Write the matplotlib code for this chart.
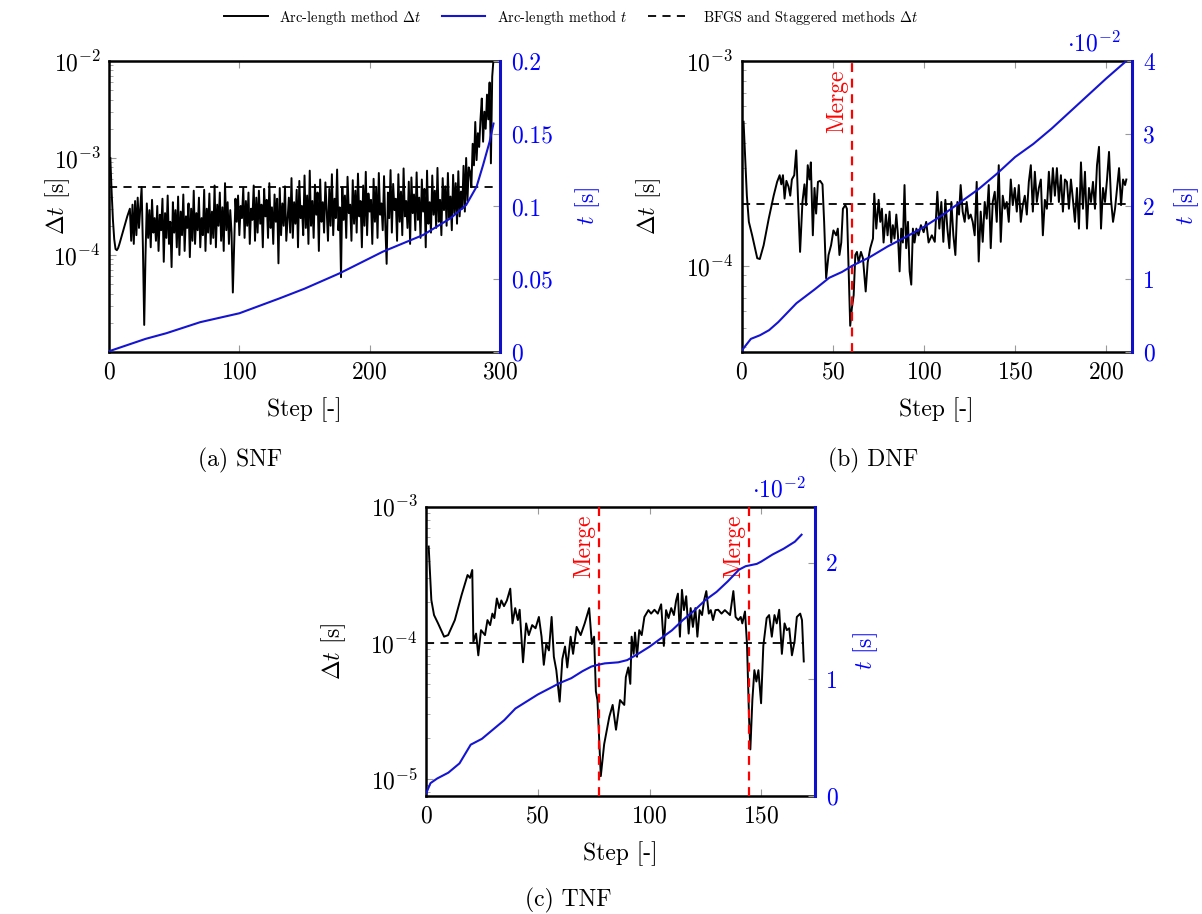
import numpy as np
import matplotlib
matplotlib.use("Agg")
import matplotlib.pyplot as plt
from matplotlib.ticker import LogLocator, NullFormatter, FixedLocator

plt.rcParams.update({
    "font.family": "serif",
    "font.serif": ["cmr10"],
    "mathtext.fontset": "cm",
    "axes.formatter.use_mathtext": True,
    "axes.unicode_minus": False,
})

# ---------------- data ----------------
# (a) SNF : dt in units of 1e-4 s, one value per step starting at step 1
dt_a = [
    10.0, 4.5, 2.3, 1.45, 1.15, 1.12, 1.18, 1.3, 1.45, 1.62, 1.8, 2.0, 2.25, 2.5, 2.75, 3.0,
    1.4, 3.3, 1.3, 3.6, 1.6, 3.9, 1.9, 3.1, 5.0, 1.2, 0.19, 1.0, 3.4, 1.5, 2.9, 1.2, 3.7, 1.7, 2.4, 1.4,
    3.2, 1.1, 2.6, 1.8, 3.8, 0.85, 2.7, 1.5, 4.1, 1.3, 2.2, 0.75, 3.5, 1.7, 2.9, 1.2, 4.0, 1.0, 2.8, 1.6,
    4.2, 1.1, 2.5, 1.9, 3.4, 0.95, 3.0, 1.4, 4.6, 1.3, 2.7, 1.8, 3.9, 1.2, 2.4, 1.6, 4.7, 1.1, 3.0, 1.7,
    4.3, 1.3, 2.8, 1.5, 5.2, 1.2, 3.3, 2.0, 4.4, 1.4, 3.1, 1.1, 5.5, 1.8, 3.5, 1.3, 2.9, 1.7, 0.41, 1.2,
    3.8, 2.2, 4.1, 1.6, 3.2, 2.4, 4.9, 1.5, 3.6, 2.0, 4.4, 1.3, 3.0, 2.3, 5.2, 1.4, 3.9, 1.7, 4.6, 2.1,
    3.3, 1.2, 4.8, 2.5, 3.7, 1.5, 5.5, 1.9, 3.1, 1.3, 4.2, 2.2, 3.8, 0.82, 4.9, 1.6, 3.4, 2.0, 5.1, 1.4,
    2.3, 3.9, 1.7, 6.2, 1.5, 3.5, 2.1, 4.7, 1.2, 5.8, 2.4, 3.2, 1.6, 6.6, 1.9, 4.1, 1.3, 7.4, 2.0, 3.6,
    1.5, 5.3, 2.6, 4.4, 1.1, 6.0, 2.2, 3.5, 1.7, 5.6, 2.9, 1.4, 4.8, 2.0, 6.8, 1.6, 3.8, 2.4, 7.6, 1.8,
    3.1, 0.59, 5.0, 2.3, 4.1, 1.5, 6.4, 2.7, 3.3, 1.4, 5.9, 2.1, 4.6, 1.7, 6.9, 2.5, 3.6, 1.2, 5.2, 2.0,
    7.2, 1.6, 4.3, 2.8, 3.7, 1.3, 6.1, 2.2, 5.0, 1.5, 7.0, 2.6, 3.4, 1.8, 6.5, 2.0, 0.81, 4.4, 2.4, 7.5,
    1.7, 5.4, 2.9, 3.8, 1.4, 6.8, 2.2, 4.5, 1.6, 7.8, 2.5, 3.6, 1.9, 5.7, 1.3, 6.3, 2.7, 4.2, 1.8, 7.1,
    2.3, 3.9, 1.5, 6.0, 2.8, 4.8, 1.2, 7.4, 2.1, 3.5, 1.7, 6.6, 2.6, 4.6, 1.9, 7.9, 2.2, 3.7, 1.6, 6.2,
    2.9, 5.1, 2.0, 7.0, 2.4, 4.0, 1.8, 6.7, 2.7, 5.5, 2.1, 7.3, 2.5, 4.5, 3.0, 8.3, 2.8, 10.0, 3.6,
    8.0, 7.2, 5.0, 14.0, 8.4, 23.5, 9.5, 18.0, 13.0, 25.0, 41.0, 14.7, 30.0, 20.0, 45.0, 25.0, 60.0, 8.8, 69.0, 105.0,
]
steps_a = list(range(1, len(dt_a) + 1))
t_steps_a = [0, 28, 44, 70, 100, 131, 150, 177, 210, 241, 262, 274, 282, 287, 292, 295]
t_a = [0.0005, 0.009, 0.0129, 0.0205, 0.0266, 0.0369, 0.0435, 0.0541, 0.0689, 0.0804,
       0.0919, 0.101, 0.1136, 0.1285, 0.1445, 0.157]

# (b) DNF : dt in units of 1e-4 s
steps_b = [1, 1.5, 2.8, 3.9, 5.7, 8.5, 9.9, 12, 14.8, 17.5, 19.4, 20.8, 21.7, 22.6, 23.5, 24.5,
           25.7, 26.6, 27.5, 28.8, 29.9, 30.8, 32, 33.3, 34.4, 35.3, 36.2, 37.2, 37.9, 39, 39.9,
           40.8, 41.8, 43, 44.3, 45.2, 46.3, 47.6, 49, 50.3, 51.8, 52.7, 53.6, 54.6, 55.5, 56.8,
           57.7, 58.6, 59.5, 60.4, 61.4, 62.3, 63.2, 64.1, 65.4, 66.5, 68, 69.1, 70.5, 72, 72.7,
           73.8, 75.1, 76, 76.9, 77.8, 79.1, 80, 81.1, 82, 82.9, 83.8, 84.8, 85.7, 86.6, 87.5,
           88.4, 89.3, 90.2, 91.2, 92.1, 93, 93.9, 94.8, 95.8, 97, 98.3, 99.8, 101.2, 102.5,
           104.3, 105.9, 107.3, 108.4, 109.5, 110.6, 111.7, 112.8, 113.9, 115, 116.1, 117.2,
           118.3, 119.2, 120.1, 121.2, 122.3, 123.4, 124.5, 125.6, 126.7, 127.8, 128.9, 130,
           131.1, 132.2, 133.3, 134.4, 135.5, 136.6, 137.7, 138.8, 139.9, 141, 142.1, 143.2,
           144.3, 145.4, 146.5, 147.6, 148.7, 149.8, 150.9, 152, 153.1, 154.2, 155.3, 156.4,
           157.5, 158.6, 159.7, 160.8, 161.9, 163, 164.1, 165.2, 166.3, 167.4, 168.5, 169.6,
           170.7, 171.8, 172.9, 174, 175.1, 176.2, 177.3, 178.4, 179.5, 180.6, 181.7, 182.8,
           183.9, 185, 186.1, 187.2, 188.3, 189.4, 190.5, 191.6, 192.7, 193.8, 194.9, 196,
           197.1, 198.2, 199.3, 200.4, 201.5, 202.6, 203.7, 204.8, 205.9, 207, 208.1, 209.2,
           210.3, 211]
dt_b = [5.05, 4.0, 2.2, 1.64, 1.41, 1.09, 1.08, 1.26, 1.7, 2.2, 2.57, 2.77, 2.5, 2.77, 2.13, 2.6,
        2.43, 2.2, 2.64, 2.77, 3.66, 2.2, 1.17, 2.05, 2.5, 1.98, 3.1, 2.64, 3.2, 1.41, 2.4,
        1.8, 2.57, 2.6, 2.5, 1.64, 0.87, 1.13, 1.26, 1.49, 1.41, 1.52, 1.13, 1.3, 1.9, 1.98,
        1.9, 0.97, 0.51, 0.62, 0.72, 1.13, 1.17, 1.04, 1.17, 1.09, 0.75, 1.04, 1.22, 1.36, 2.25,
        1.52, 2.1, 1.64, 1.9, 1.3, 1.78, 1.41, 1.84, 1.3, 1.58, 1.36, 1.78, 1.41, 0.94, 1.52,
        1.3, 2.48, 1.22, 1.64, 0.94, 0.81, 1.52, 1.3, 1.52, 1.41, 1.58, 1.46, 1.64, 1.3,
        1.41, 1.31, 2.3, 1.52, 2.05, 1.31, 2.1, 1.52, 1.22, 2.05, 1.41, 1.13,
        2.05, 1.78, 2.48, 1.84, 1.64, 2.05, 1.7, 1.78, 1.64, 1.41, 2.57, 1.05,
        1.84, 1.31, 2.05, 1.7, 2.48, 1.22, 2.05, 2.3, 1.64, 3.1, 1.31, 2.2,
        1.9, 2.05, 1.64, 2.64, 1.98, 2.4, 1.84, 2.48, 1.64, 1.98, 2.2, 1.78,
        2.57, 3.1, 1.84, 2.88, 2.05, 2.4, 2.64, 1.41, 2.1, 1.9, 2.88, 2.05,
        3.0, 2.2, 3.0, 2.05, 2.77, 1.84, 2.64, 2.57, 1.9, 2.64, 2.1, 1.64,
        2.4, 1.52, 3.2, 1.9, 2.88, 1.52, 2.4, 2.05, 2.57, 1.9, 3.1, 3.81,
        1.52, 2.4, 2.05, 2.64, 3.6, 2.1, 1.64, 1.9, 2.4, 3.0, 1.98, 2.64,
        2.48, 2.64]
t_steps_b = [0, 5, 10, 15, 20, 30, 40, 48, 55, 61, 70, 80, 90, 100, 110, 120, 130, 140, 150,
             160, 170, 180, 190, 200, 211]
t_b = [0.02, 0.18, 0.23, 0.30, 0.41, 0.67, 0.86, 1.02, 1.10, 1.19, 1.30, 1.45, 1.58, 1.72,
       1.88, 2.06, 2.24, 2.45, 2.68, 2.86, 3.07, 3.30, 3.53, 3.76, 4.0]  # x 1e-2

# (c) TNF : dt in units of 1e-4 s
steps_c = [1.2, 2.4, 3.6, 5.4, 8.1, 9.9, 12.9, 15.9, 18.6, 19.7, 20.7, 21.2, 22.4, 23.4, 24.6,
           26.4, 27.5, 28.7, 29.7, 30.6, 31.7, 32.8, 33.7, 34.9, 36.2, 37.7, 38.7, 39.9, 41.1,
           41.9, 43.4, 44.8, 46, 47.5, 49, 50.5, 51.7, 52.7, 53.8, 55, 56.2, 57.2, 58.3, 59.8,
           61, 62.2, 63.2, 64.7, 65.8, 67.4, 69.2, 71, 73, 74.2, 75.2, 76, 76.7, 78.2, 79.7, 82,
           83.5, 85, 86.8, 88.7, 89.4, 90.5, 91.4, 92, 92.9, 93.5, 94.4, 95.4, 96.5, 97.7, 99.5,
           100.7, 102.2, 103.7, 105.2, 106.4, 107.4, 108.5, 109.7, 110.9, 111.9, 112.7, 113.6,
           114.5, 115.4, 116.4, 117.5, 118.4, 119.4, 120.5, 121.4, 122.4, 123.5, 124.4, 125.4,
           126.5, 127.4, 128.4, 129.5, 130.7, 132.2, 133.7, 136, 137.5, 138.5, 139.7, 140.8,
           141.5, 142.7, 143.6, 144.5, 145.1, 146, 146.9, 147.8, 148.7, 149.9, 150.9, 152.4,
           153.5, 154.7, 155.9, 156.9, 158, 159.2, 160.4, 161.4, 162.5, 163.7, 164.9, 165.9,
           167.4, 168.2, 169]
dt_c = [5.1, 2.06, 1.6, 1.39, 1.11, 1.14, 1.47, 2.24, 3.15, 3.0, 3.43, 1.02, 1.17, 0.81, 1.24,
        1.14, 1.47, 1.35, 1.64, 1.52, 2.12, 1.8, 2.05, 1.86, 2.05, 2.5, 1.39, 1.8, 1.47,
        1.75, 0.72, 1.39, 1.14, 1.35, 1.28, 1.55, 1.11, 0.69, 0.98, 0.88, 1.55, 0.79, 0.63, 0.37,
        0.76, 0.94, 0.66, 1.11, 0.83, 1.31, 1.14, 1.39, 1.8, 0.98, 1.11, 0.44, 0.38, 0.105, 0.18, 0.286,
        0.35, 0.23, 0.38, 0.35, 0.56, 0.66, 0.50, 1.11, 0.83, 1.19, 0.79, 1.24, 1.14, 1.55, 1.74,
        1.64, 1.75, 1.64, 1.92, 0.95, 1.74, 1.52, 1.8, 1.6, 2.05, 2.3, 1.11,
        2.45, 1.74, 2.2, 1.17, 1.8, 1.31, 1.8, 1.11, 1.74, 1.6, 2.05, 2.4,
        1.64, 1.74, 1.47, 1.74, 1.75, 1.64, 1.74, 1.6, 2.4, 1.55, 1.47, 1.55,
        1.39, 1.7, 0.98, 0.286, 0.165, 0.38, 0.63, 0.52, 0.63, 0.36, 0.95, 1.52,
        1.6, 1.11, 1.6, 1.39, 1.75, 0.83, 1.39, 1.24, 1.28, 0.81, 1.03, 1.55,
        1.64, 1.47, 0.73]
t_steps_c = [0, 2, 5, 10, 15, 20, 25, 30, 35, 40, 45, 50, 55, 60, 65, 70, 74, 77, 80, 86, 90,
             95, 100, 105, 110, 115, 120, 125, 130, 135, 140, 143, 148, 150, 155, 160, 165, 168]
t_c = [0.02, 0.11, 0.15, 0.20, 0.28, 0.44, 0.49, 0.57, 0.65, 0.75, 0.81, 0.87, 0.92, 0.97,
       1.01, 1.07, 1.11, 1.125, 1.137, 1.146, 1.165, 1.22, 1.28, 1.35, 1.42, 1.51, 1.59, 1.68,
       1.75, 1.84, 1.94, 1.97, 1.99, 2.01, 2.07, 2.12, 2.18, 2.24]  # x 1e-2

ref_dt = {"a": 5e-4, "b": 2e-4, "c": 1e-4}
merges_b = [60.5]
merges_c = [77.5, 144.5]

BLUE = "#1414d2"
TICK = "#9a9a9a"
FS = 17


def panel(rect, steps, dt, tsteps, t, dtref, xlim, xticks, ylim, ydec,
          tlim, tticks, tlabels, merges=(), offset=None, lab_l=-0.1, lab_r=1.18):
    ax = fig.add_axes(rect)
    ax2 = ax.twinx()
    l1, = ax.plot(steps, np.array(dt) * 1e-4, color="black", lw=1.4, zorder=3)
    l3, = ax.plot([0, steps[-1]], [dtref, dtref], color="black", lw=1.3,
                  dashes=(4.5, 3.5), zorder=2)
    for m in merges:
        ax.axvline(m, color="red", lw=1.6, dashes=(4, 3), zorder=4)
        ax.annotate("Merge", xy=(m, 1), xycoords=("data", "axes fraction"),
                    xytext=(-3, -6), textcoords="offset points", rotation=90,
                    ha="right", va="top", color="red", fontsize=FS)
    l2, = ax2.plot(tsteps, t, color=BLUE, lw=1.5)

    ax.set_yscale("log")
    ax.set_xlim(*xlim)
    ax.set_ylim(*ylim)
    ax.set_xticks(xticks)
    ax.yaxis.set_major_locator(FixedLocator(ydec))
    ax.yaxis.set_minor_locator(LogLocator(base=10, subs=np.arange(2, 10)))
    ax.yaxis.set_minor_formatter(NullFormatter())
    ax.tick_params(which="both", direction="in", color=TICK, labelsize=FS,
                   top=True, right=False)
    ax.tick_params(which="major", length=5, width=0.8)
    ax.tick_params(which="minor", length=3, width=0.6)
    ax.tick_params(axis="x", pad=7)
    ax.tick_params(axis="y", pad=6)

    ax2.set_ylim(*tlim)
    ax2.set_yticks(tticks)
    ax2.set_yticklabels(tlabels)
    ax2.tick_params(axis="y", direction="in", color=TICK, length=5, width=0.8,
                    labelcolor="blue", labelsize=FS, pad=8)

    for s in ["left", "top", "bottom"]:
        ax.spines[s].set_linewidth(1.8)
        ax2.spines[s].set_visible(False)
    ax.spines["right"].set_visible(False)
    ax2.spines["right"].set_color("#1010c8")
    ax2.spines["right"].set_linewidth(2.2)

    ax.set_xlabel("Step [-]", fontsize=FS, labelpad=10)
    ax.set_ylabel(r"$\Delta t$ [s]", fontsize=FS)
    ax.yaxis.set_label_coords(lab_l, 0.5)
    ax2.set_ylabel(r"$t$ [s]", fontsize=FS, color="blue")
    ax2.yaxis.set_label_coords(lab_r, 0.5)
    if offset:
        ax2.text(offset, 1.015, r"$\cdot 10^{-2}$", transform=ax2.transAxes,
                 ha="right", va="bottom", color="blue", fontsize=FS)
    return l1, l2, l3


fig = plt.figure(figsize=(12.02, 9.14), dpi=100)

h = panel([0.0907, 0.6149, 0.3253, 0.3184], steps_a, dt_a, t_steps_a, t_a, ref_dt["a"],
          (0, 300), [0, 100, 200, 300], (1e-5, 1e-2), [1e-4, 1e-3, 1e-2],
          (0, 0.2), [0, 0.05, 0.1, 0.15, 0.2], ["0", "0.05", "0.1", "0.15", "0.2"],
          lab_l=-0.095, lab_r=1.187)

panel([0.6171, 0.6149, 0.3245, 0.3184], steps_b, dt_b, t_steps_b, np.array(t_b) * 1e-2,
      ref_dt["b"], (0, 214), [0, 50, 100, 150, 200], (3.8e-5, 1e-3), [1e-4, 1e-3],
      (0, 0.04), [0, 0.01, 0.02, 0.03, 0.04], ["0", "1", "2", "3", "4"],
      merges=merges_b, offset=0.97, lab_l=-0.202, lab_r=1.103)

panel([0.3544, 0.1291, 0.3236, 0.3165], steps_c, dt_c, t_steps_c, np.array(t_c) * 1e-2,
      ref_dt["c"], (0, 174), [0, 50, 100, 150], (7.5e-6, 1e-3), [1e-5, 1e-4, 1e-3],
      (0, 0.0248), [0, 0.01, 0.02], ["0", "1", "2"],
      merges=merges_c, offset=0.977, lab_l=-0.2, lab_r=1.093)

fig.text(0.2, 0.4967, "(a) SNF", ha="center", va="center", fontsize=FS)
fig.text(0.726, 0.4967, "(b) DNF", ha="center", va="center", fontsize=FS)
fig.text(0.4725, 0.0153, "(c) TNF", ha="center", va="center", fontsize=FS)

fig.legend(h, [r"Arc-length method $\Delta t$", r"Arc-length method $t$",
               r"BFGS and Staggered methods $\Delta t$"],
           loc="upper center", bbox_to_anchor=(0.475, 1.006), ncol=3, frameon=False,
           fontsize=10.4, handlelength=3.0, columnspacing=1.4, handletextpad=0.8)

fig.savefig("out.png", dpi=100)
